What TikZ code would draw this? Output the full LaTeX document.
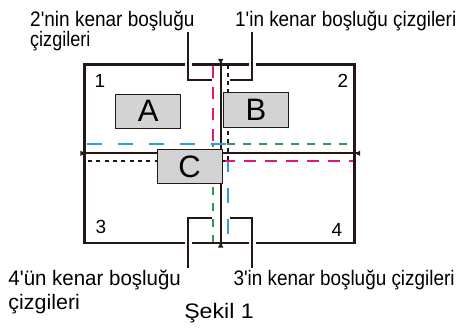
\documentclass[tikz,border=0pt]{standalone}
\usepackage{fontspec}
\setmainfont{Liberation Sans}
\definecolor{lineC}{HTML}{231815}
\definecolor{magC}{HTML}{E4157F}
\definecolor{bluC}{HTML}{2A9FD8}
\definecolor{grnC}{HTML}{2E9A4A}
\definecolor{boxC}{HTML}{D3D3D3}
\newcommand{\q}{\textquotesingle}
\newcommand{\sx}[2]{\scalebox{#1}[1]{#2}}
\begin{document}
\begin{tikzpicture}[x=1pt,y=-1pt,
  frame/.style={draw=lineC,line width=2.6pt},
  cline/.style={draw=lineC,line width=2.3pt},
  tip/.style={fill=lineC},
  lbl/.style={inner sep=0pt,anchor=base west,font=\fontsize{21}{24}\selectfont,text=black},
  num/.style={inner sep=0pt,font=\fontsize{19}{22}\selectfont,text=black},
  letterbox/.style={draw=lineC,line width=1pt,fill=boxC,inner sep=0pt,font=\fontsize{31}{34}\selectfont},
  mline/.style={line width=2.2pt},
  bracket/.style={draw=lineC,line width=2.2pt,preaction={draw=white,line width=6.5pt}}]
\useasboundingbox (0,0) rectangle (461,327);
% centre lines
\coordinate (vt) at (220.7,60);
\coordinate (vb) at (220.7,246);
\coordinate (hl) at (81.5,153.3);
\coordinate (hr) at (358.5,153.3);
\draw[cline] (vt) -- (vb);
\draw[cline] (hl) -- (hr);
\fill[tip] (218.0,58.8) -- (223.4,58.8) -- (220.7,63.8) -- cycle;
\fill[tip] (218.0,247.5) -- (223.4,247.5) -- (220.7,242.5) -- cycle;
\fill[tip] (80.3,150.6) -- (80.3,156.0) -- (85.3,153.3) -- cycle;
\fill[tip] (360.2,150.6) -- (360.2,156.0) -- (355.2,153.3) -- cycle;
% margin lines
\draw[mline,draw=grnC,dash pattern=on 8pt off 8pt] (213.3,242.8) -- (213.3,144) -- (354.5,144);
\draw[mline,draw=bluC,dash pattern=on 15pt off 16pt,dash phase=-2pt] (84.5,144) -- (228.3,144) -- (228.3,242.8);
\draw[mline,draw=magC,dash pattern=on 12pt off 9pt,dash phase=-1pt] (213.3,64.5) -- (213.3,160.7) -- (354.5,160.7);
\draw[mline,draw=lineC,dash pattern=on 4pt off 4.3pt] (228.3,64.5) -- (228.3,160.7) -- (84.5,160.7);
% frame
\draw[frame] (84.5,64.5) rectangle (354.5,242.8);
% boxes
\node[letterbox,minimum width=65pt,minimum height=34.3pt] (A) at (148.2,111.2) {A};
\node[letterbox,minimum width=65.4pt,minimum height=34.6pt] (B) at (256,110) {B};
\node[letterbox,minimum width=65pt,minimum height=34.4pt] (C) at (189.5,166.5) {C};
% numbers
\node[num] (n1) at (100,81) {1};
\node[num] (n2) at (343,81) {2};
\node[num] (n3) at (101,227) {3};
\node[num] (n4) at (337,230) {4};
% labels
\node[lbl] (l2) at (30,26.7) {\sx{0.905}{2\q nin kenar boşluğu}};
\node[lbl] (l2b) at (30,46.7) {\sx{0.86}{çizgileri}};
\node[lbl] (l1) at (235,26.7) {\sx{0.9}{1\q in kenar boşluğu çizgileri}};
\node[lbl] (l4) at (8.3,285) {\sx{0.975}{4\q ün kenar boşluğu}};
\node[lbl] (l4b) at (8.3,309) {\sx{1.02}{çizgileri}};
\node[lbl] (l3) at (233.3,285) {\sx{0.9}{3\q in kenar boşluğu çizgileri}};
\node[lbl,anchor=base] (cap) at (219,318) {\sx{1.1}{Şekil 1}};
% brackets
\coordinate (b2s) at (188.3,32);
\coordinate (b2e) at (211.5,80);
\coordinate (b1s) at (252.3,32);
\coordinate (b1e) at (229.5,80);
\coordinate (b4s) at (188.3,268);
\coordinate (b4e) at (211.5,218.3);
\coordinate (b3s) at (252.3,268);
\coordinate (b3e) at (229.5,218.3);
\draw[bracket] (b2s) |- (b2e);
\draw[bracket] (b1s) |- (b1e);
\draw[bracket] (b4s) |- (b4e);
\draw[bracket] (b3s) |- (b3e);
\end{tikzpicture}
\end{document}
